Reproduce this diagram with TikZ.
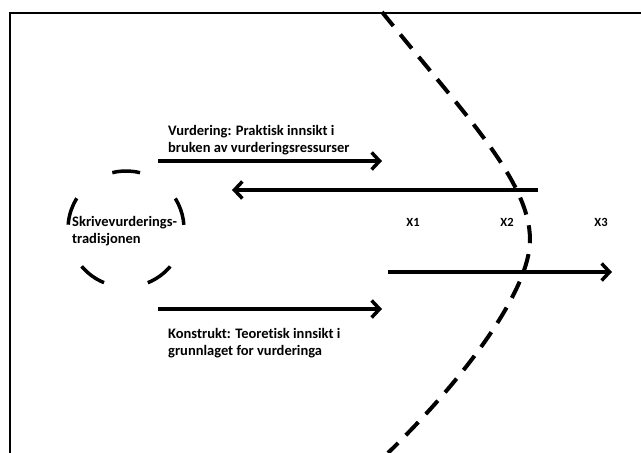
\documentclass[tikz,border=0pt]{standalone}
\usepackage{fontspec}
\setmainfont{Carlito}[Ligatures=NoCommon]
\usetikzlibrary{arrows.meta}
\begin{document}
\begin{tikzpicture}[x=1pt,y=1pt,
  lbl/.style={font=\bfseries\fontsize{14.5}{17}\selectfont, inner sep=0, anchor=base west},
  lbltight/.style={lbl, font=\bfseries\fontsize{14.5}{16.5}\selectfont},
  xl/.style={font=\bfseries\fontsize{12.5}{15}\selectfont, inner sep=0},
  arr/.style={line width=3.5pt, -{Straight Barb[length=8pt,width=17pt]}},
  frame/.style={line width=2.5pt},
  circdash/.style={line width=3.5pt, dash pattern=on 28pt off 44.9pt},
  arcdash/.style={line width=4pt, dash pattern=on 18pt off 11pt}
]
\useasboundingbox (0,0) rectangle (641,453);
\clip (0,0) rectangle (641,453);
% frame
\draw[frame] (10,-5) -- (10,440) -- (650,440);
% dashed circle
\draw[circdash] (126,224) ++(76:58) arc[start angle=76, end angle=436, radius=58];
% dashed boundary
\draw[arcdash] (382,441) .. controls (465,338) and (530,272) .. (530,213)
  .. controls (530,165) and (470,80) .. (388,0);
% texts
\node[lbltight] (skr) at (72,226) {\begin{tabular}[t]{@{}l@{}}Skrivevurderings-\\tradisjonen\end{tabular}};
\node[lbl] (vurd) at (168,317.5) {\begin{tabular}[t]{@{}l@{}}Vurdering: Praktisk innsikt i\\bruken av vurderingsressurser\end{tabular}};
\node[lbl] (kon) at (168,114) {\begin{tabular}[t]{@{}l@{}}Konstrukt: Teoretisk innsikt i\\grunnlaget for vurderinga\end{tabular}};
\node[xl] (x1) at (413,231) {X1};
\node[xl] (x2) at (507,231) {X2};
\node[xl] (x3) at (601,231) {X3};
% arrows
\coordinate (a1s) at (158,292); \coordinate (a1e) at (382,292);
\coordinate (a2s) at (538,263); \coordinate (a2e) at (232,263);
\coordinate (a3s) at (388,181); \coordinate (a3e) at (612,181);
\coordinate (a4s) at (158,144); \coordinate (a4e) at (382,144);
\draw[arr] (a1s) -- (a1e);
\draw[arr] (a2s) -- (a2e);
\draw[arr] (a3s) -- (a3e);
\draw[arr] (a4s) -- (a4e);
\end{tikzpicture}
\end{document}
